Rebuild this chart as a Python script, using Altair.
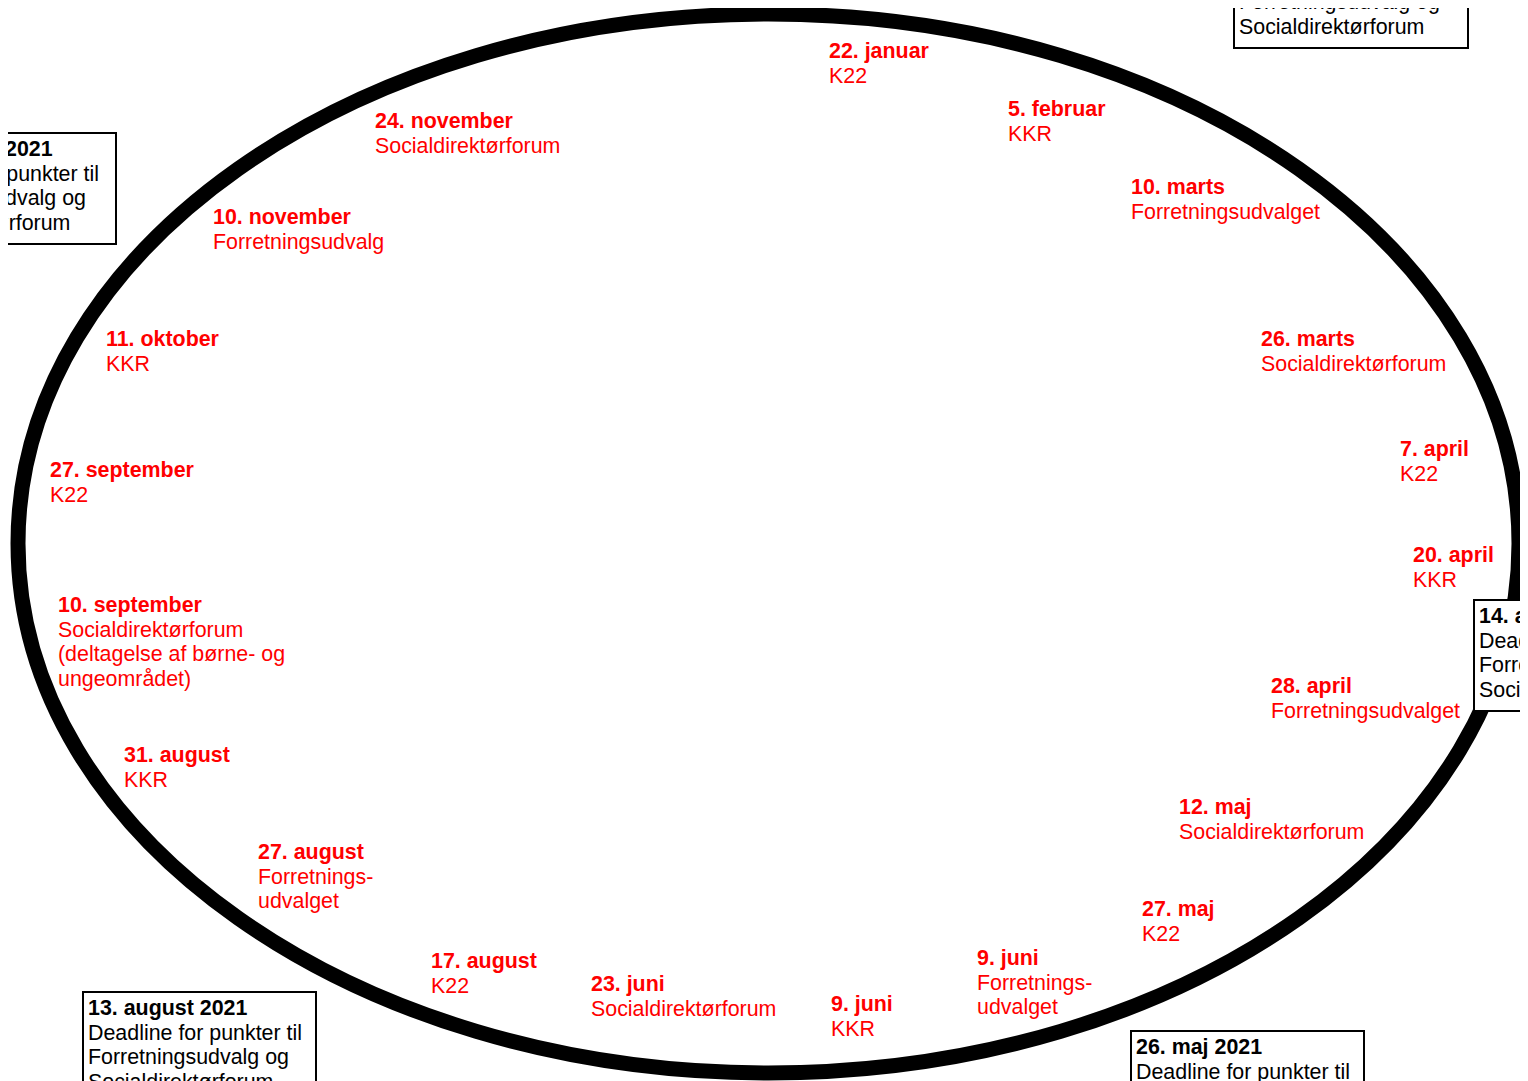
import altair as alt
import pandas as pd

# ---- canvas coordinate space (page pixels) ----
X_MIN, X_MAX = 8, 1520
Y_MIN, Y_MAX = 8, 1081

# ---- meeting events (red labels) ----
ev_dates = ["22. januar", "5. februar", "10. marts", "26. marts", "7. april",
            "20. april", "28. april", "12. maj", "27. maj", "9. juni",
            "9. juni", "23. juni", "17. august", "27. august", "31. august",
            "10. september", "27. september", "11. oktober", "10. november",
            "24. november"]
ev_texts = [["K22"], ["KKR"], ["Forretningsudvalget"], ["Socialdirektørforum"],
            ["K22"], ["KKR"], ["Forretningsudvalget"], ["Socialdirektørforum"],
            ["K22"], ["Forretnings-", "udvalget"], ["KKR"],
            ["Socialdirektørforum"], ["K22"], ["Forretnings-", "udvalget"],
            ["KKR"],
            ["Socialdirektørforum", "(deltagelse af børne- og", "ungeområdet)"],
            ["K22"], ["KKR"], ["Forretningsudvalg"], ["Socialdirektørforum"]]
ev_x = [829, 1008, 1131, 1261, 1400, 1413, 1271, 1179, 1142, 977,
        831, 591, 431, 258, 124, 58, 50, 106, 213, 375]
ev_y = [58, 116, 194, 346, 456, 562, 693, 814, 916, 965,
        1011, 991, 968, 859, 762, 612, 477, 346, 224, 128]

# ---- deadline boxes ----
box_dates = ["24. februar 2021", "14. april 2021", "26. maj 2021",
             "13. august 2021", "27. oktober 2021"]
box_lines = ["Deadline for punkter til", "Forretningsudvalg og",
             "Socialdirektørforum"]
box_x0 = [1234, 1474, 1131, 83, -120]
box_x1 = [1468, 1707, 1364, 316, 116]
box_y0 = [-63, 600, 1031, 992, 133]
box_y1 = [48, 711, 1142, 1103, 244]

# ---- ellipse (year wheel) ----
ell_cx, ell_cy = 768.5, 543.5
ell_a, ell_b = 750.5, 529.5

LINE = 24.6
FONT = "Liberation Sans"
FS = 21.4

# build tables
lab_rows = []
for d, lines, x, y in zip(ev_dates, ev_texts, ev_x, ev_y):
    lab_rows.append(dict(x=x, y=y, t=d, bold=True, c="red"))
    for i, l in enumerate(lines):
        lab_rows.append(dict(x=x, y=y + (i + 1) * LINE, t=l, bold=False, c="red"))
for d, x0, y0 in zip(box_dates, box_x0, box_y0):
    bx, by = x0 + 5, y0 + 23
    lab_rows.append(dict(x=bx, y=by, t=d, bold=True, c="black"))
    for i, l in enumerate(box_lines):
        lab_rows.append(dict(x=bx, y=by + (i + 1) * LINE, t=l, bold=False, c="black"))
labels = pd.DataFrame(lab_rows)

boxes = pd.DataFrame(dict(x0=box_x0, x1=box_x1, y0=box_y0, y1=box_y1))
ell = pd.DataFrame(dict(x=[ell_cx], y=[ell_cy]))

xs = alt.Scale(domain=[X_MIN, X_MAX], zero=False, nice=False)
ys = alt.Scale(domain=[Y_MIN, Y_MAX], zero=False, nice=False, reverse=True)

ratio = ell_b / ell_a
path = f"M -1 0 A 1 {ratio:.5f} 0 1 1 1 0 A 1 {ratio:.5f} 0 1 1 -1 0 Z"

ellipse = alt.Chart(ell).mark_point(
    shape=path, filled=False, stroke="black", strokeWidth=15, opacity=1
).encode(
    x=alt.X("x:Q", scale=xs, axis=None),
    y=alt.Y("y:Q", scale=ys, axis=None),
    size=alt.value((2 * ell_a) ** 2),
)

rects = alt.Chart(boxes).mark_rect(
    fill="white", stroke="black", strokeWidth=2
).encode(
    x=alt.X("x0:Q", scale=xs, axis=None), x2="x1:Q",
    y=alt.Y("y0:Q", scale=ys, axis=None), y2="y1:Q",
)

def text_layer(bold, color):
    df = labels[(labels.bold == bold) & (labels.c == color)]
    return alt.Chart(df).mark_text(
        align="left", baseline="alphabetic", font=FONT, fontSize=FS,
        fontWeight="bold" if bold else "normal", color=color,
    ).encode(
        x=alt.X("x:Q", scale=xs, axis=None),
        y=alt.Y("y:Q", scale=ys, axis=None),
        text="t:N",
    )

chart = alt.layer(
    ellipse, rects,
    text_layer(True, "red"), text_layer(False, "red"),
    text_layer(True, "black"), text_layer(False, "black"),
).properties(
    width=X_MAX - X_MIN, height=Y_MAX - Y_MIN,
    autosize=alt.AutoSizeParams(type="none"), padding=0,
    background="white",
).configure_view(stroke=None)

chart.save("out.html", embed_options={"renderer": "svg", "actions": False})
